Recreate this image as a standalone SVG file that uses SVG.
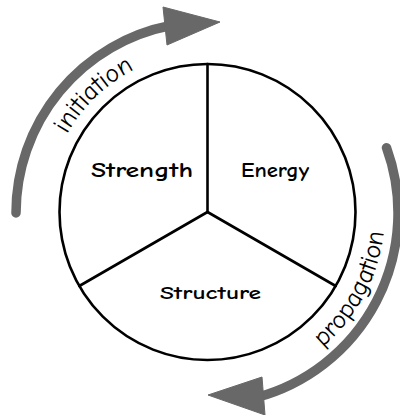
<svg xmlns="http://www.w3.org/2000/svg" xmlns:xlink="http://www.w3.org/1999/xlink" width="400" height="415" viewBox="0 0 400 415">
  <style>
    .ring { fill: #ffffff; stroke: #000000; stroke-width: 2.6; }
    .spoke { stroke: #000000; stroke-width: 2.6; stroke-linecap: round; }
    .shaft { fill: none; stroke: #686868; stroke-width: 9.5; stroke-linecap: round; }
    .head { fill: #686868; stroke: #686868; stroke-width: 1; stroke-linejoin: round; }
    .label { font-family: "Comic Sans MS", "Comic Neue", "DejaVu Sans", sans-serif; font-weight: bold; fill: #000000; text-anchor: middle; }
    .phase { font-family: "Comic Sans MS", "Comic Neue", "DejaVu Sans", sans-serif; font-size: 26px; fill: #000000; text-anchor: middle; }
  </style>
  <defs>
    <path id="initiationPath" d="M 49.4 184.2 A 160 160 0 0 1 184.7 53.6"/>
    <path id="propagationPath" d="M 296 366.2 A 178 178 0 0 0 384.6 199.6"/>
  </defs>

  <rect width="400" height="415" fill="#ffffff"/>

  <!-- cycle arrows -->
  <g id="connectors">
    <g id="initiation-arrow">
      <path class="shaft" d="M 16 213 A 191 191 0 0 1 170.6 25.5"/>
      <polygon class="head" points="163,7 220,22 167,45"/>
    </g>
    <g id="propagation-arrow">
      <path class="shaft" d="M 386.5 147.7 A 191 191 0 0 1 256.4 397.5"/>
      <polygon class="head" points="262,377 208,395 265,415"/>
    </g>
  </g>

  <!-- three-sector wheel -->
  <g id="wheel">
    <circle class="ring" cx="207.5" cy="212" r="148"/>
    <line class="spoke" x1="207.5" y1="212" x2="207.5" y2="64"/>
    <line class="spoke" x1="207.5" y1="212" x2="79.3" y2="286"/>
    <line class="spoke" x1="207.5" y1="212" x2="335.7" y2="286"/>
  </g>

  <g id="strength">
    <text class="label" x="142" y="177" font-size="21" textLength="102" lengthAdjust="spacingAndGlyphs">Strength</text>
  </g>
  <g id="energy">
    <text class="label" x="275" y="177" font-size="20" textLength="68" lengthAdjust="spacingAndGlyphs">Energy</text>
  </g>
  <g id="structure">
    <text class="label" x="210.5" y="299" font-size="19" textLength="101" lengthAdjust="spacingAndGlyphs">Structure</text>
  </g>

  <g id="initiation">
    <text class="phase"><textPath xlink:href="#initiationPath" href="#initiationPath" startOffset="50%">initiation</textPath></text>
  </g>
  <g id="propagation">
    <text class="phase"><textPath xlink:href="#propagationPath" href="#propagationPath" startOffset="50%">propagation</textPath></text>
  </g>
</svg>
